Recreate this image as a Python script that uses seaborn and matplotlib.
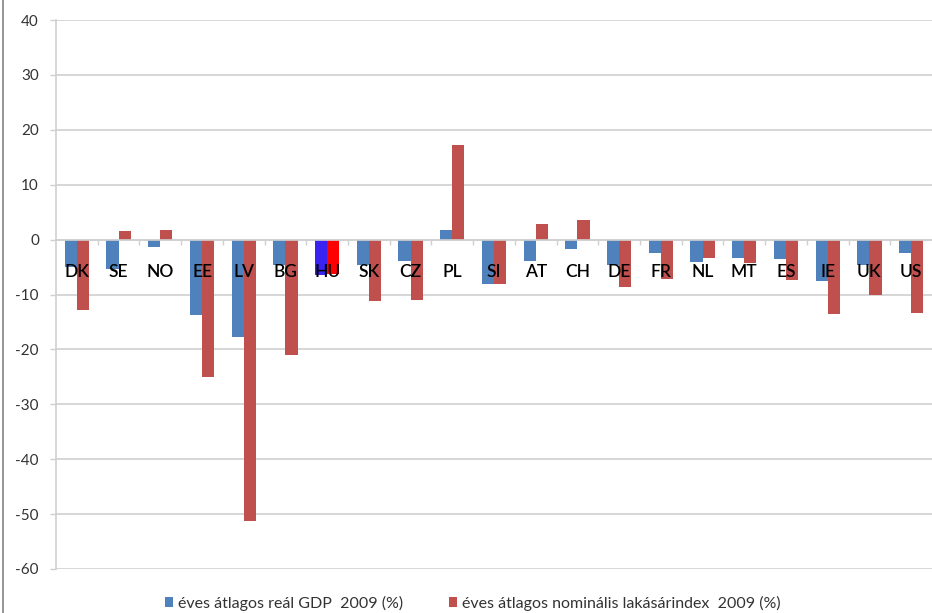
import matplotlib
matplotlib.use("Agg")
import matplotlib.pyplot as plt
import matplotlib.lines as mlines
from matplotlib.patches import Patch
from matplotlib.ticker import MultipleLocator, FixedLocator
import numpy as np
import pandas as pd
import seaborn as sns

# Country codes along the category axis
countries = ["DK", "SE", "NO", "EE", "LV", "BG", "HU", "SK", "CZ", "PL", "SI",
             "AT", "CH", "DE", "FR", "NL", "MT", "ES", "IE", "UK", "US"]

# Annual average real GDP change, 2009 (%)
gdp = [-4.9, -5.3, -1.3, -13.8, -17.7, -4.7, -6.5, -4.6, -3.9, 1.7, -8.1,
       -3.9, -1.8, -4.7, -2.5, -4.0, -3.3, -3.6, -7.5, -4.7, -2.5]

# Annual average nominal house price index change, 2009 (%)
house = [-12.9, 1.5, 1.8, -25.1, -51.2, -21.1, -6.3, -11.1, -11.0, 17.2, -8.0,
         2.9, 3.5, -8.6, -7.1, -3.4, -4.2, -7.3, -13.6, -10.0, -13.3]

series_names = ["éves átlagos reál GDP  2009 (%)",
                "éves átlagos nominális lakásárindex  2009 (%)"]

highlight = "HU"

BLUE = "#4F81BD"
RED = "#C0504D"
HU_BLUE = "#3A22F2"
HU_RED = "#FF0000"
GRID = "#D0D0D0"
TEXT = "#333333"

df = pd.DataFrame({
    "country": countries * 2,
    "series": [series_names[0]] * len(countries) + [series_names[1]] * len(countries),
    "value": gdp + house,
})

sns.set_theme(style="white")
plt.rcParams["font.family"] = ["Lato", "DejaVu Sans"]
plt.rcParams["axes.unicode_minus"] = False

fig = plt.figure(figsize=(9.32, 6.13), dpi=100)
ax = fig.add_axes([56 / 932, 44 / 613, (932 - 56) / 932, (569 - 20) / 613])

sns.barplot(data=df, x="country", y="value", hue="series",
            palette=[BLUE, RED], width=0.58, saturation=1, gap=0,
            legend=False, ax=ax, zorder=2, edgecolor="none")

# Hungary stands out in brighter colours
hu = countries.index(highlight)
ax.containers[0][hu].set_facecolor(HU_BLUE)
ax.containers[1][hu].set_facecolor(HU_RED)

ax.set_ylim(-60, 40)
ax.set_xlim(-0.5, len(countries) - 0.5)
ax.yaxis.set_major_locator(MultipleLocator(10))
ax.set_axisbelow(True)
ax.grid(axis="y", color=GRID, linewidth=1.2)
ax.grid(axis="x", visible=False)

for side in ["top", "right"]:
    ax.spines[side].set_visible(False)
ax.spines["left"].set_color(GRID)
ax.spines["left"].set_linewidth(1.2)
ax.spines["bottom"].set_position(("data", 0))
ax.spines["bottom"].set_color(GRID)
ax.spines["bottom"].set_linewidth(1.2)

ax.tick_params(axis="y", which="major", length=4.3, width=1.0, color=GRID,
               pad=8.0, labelsize=11, labelcolor=TEXT, left=True)
ax.set_yticks(np.arange(-60, 41, 10))
ax.set_yticklabels([str(v) for v in range(-60, 41, 10)])

# Category boundary tick marks on the zero line, labels drawn over the bars
ax.set_xticks([])
ax.xaxis.set_minor_locator(FixedLocator(np.arange(0.5, len(countries) - 0.5, 1)))
ax.tick_params(axis="x", which="minor", length=3.6, width=1.0, color=GRID,
               direction="out", bottom=True)
for i, c in enumerate(countries):
    ax.text(i, -5.9, c, ha="center", va="center", fontsize=12.5,
            fontweight="semibold", color="black", zorder=5)

ax.set_xlabel("")
ax.set_ylabel("")

handles = [Patch(facecolor=BLUE, edgecolor="none"),
           Patch(facecolor=RED, edgecolor="none")]
fig.legend(handles, series_names, loc="center", ncol=2,
           bbox_to_anchor=(473 / 932, 1 - 603 / 613), frameon=False,
           fontsize=11.5, handlelength=0.5, handleheight=0.55,
           handletextpad=0.3, columnspacing=2.9, labelcolor=TEXT)

# Thin frame line along the left edge of the image
fig.add_artist(mlines.Line2D([2.5 / 932, 2.5 / 932], [0, 1],
                             transform=fig.transFigure, color="#8C8C8C",
                             linewidth=1.3))

fig.savefig("out.png", dpi=100)
